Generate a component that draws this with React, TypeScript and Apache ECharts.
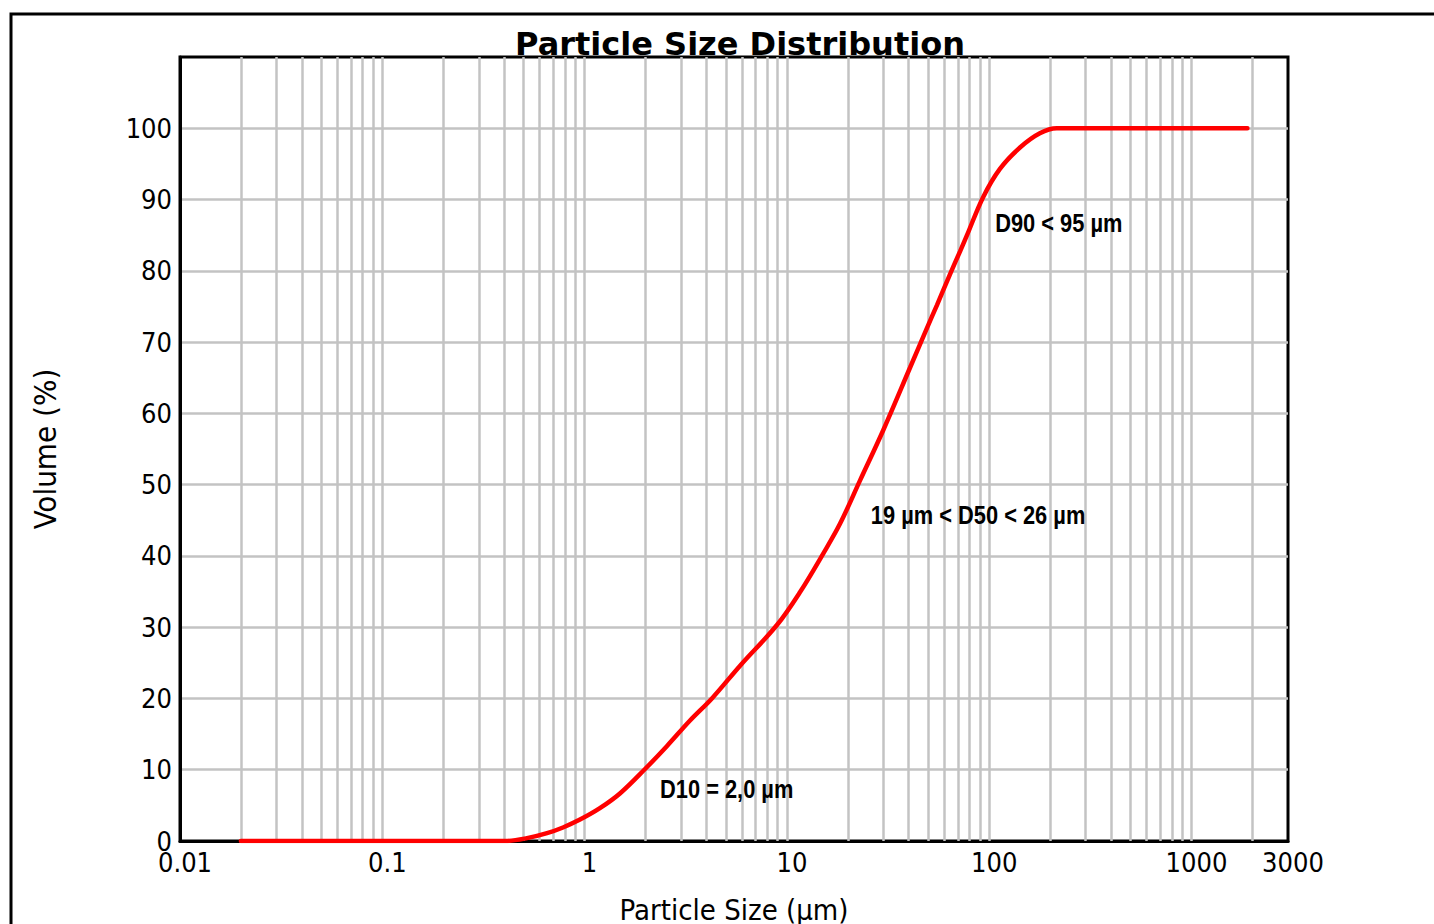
import React, { useEffect, useRef } from "react";
import * as echarts from "echarts";

// Cumulative particle size distribution
const particleSizeUm = [
  0.02, 0.404, 0.519, 0.652, 0.782, 0.949, 1.19, 1.5, 1.99, 2.55, 3.32, 4.26,
  5.87, 8.93, 11.6, 15.1, 18.3, 23.0, 29.9, 40.6, 49.3, 55.2, 64.0, 71.7, 77.7,
  93.2, 113, 142, 178, 216, 1890,
];
const volumePct = [
  0, 0, 0.4, 1.1, 1.9, 3.0, 4.6, 6.7, 10.1, 13.3, 16.9, 20.0,
  24.6, 30.3, 34.9, 40.3, 44.5, 50.6, 57.6, 66.4, 72, 75.2, 79.5, 82.7, 85,
  90.3, 94.3, 97.3, 99.3, 100, 100,
];

// Vertical grid lines of the log axis
const gridSizes = [
  0.02, 0.03, 0.04, 0.05, 0.06, 0.07, 0.08, 0.09,
  0.1, 0.2, 0.3, 0.4, 0.5, 0.6, 0.7, 0.8, 0.9,
  1, 2, 3, 4, 5, 6, 7, 8, 9,
  10, 20, 30, 40, 50, 60, 70, 80, 90,
  100, 200, 300, 400, 500, 600, 700, 800, 900,
  1000, 2000,
];

// Annotations (left edge / vertical centre in data units)
const annotationTexts = ["D10 = 2,0 µm", "19 µm < D50 < 26 µm", "D90 < 95 µm"];
const annotationSize = [2.36, 26.0, 107];
const annotationVolume = [7.3, 45.8, 86.8];

const TITLE = "Particle Size Distribution";
const X_NAME = "Particle Size (µm)";
const Y_NAME = "Volume (%)";

const AXIS_FONT = "'DejaVu Sans Condensed', 'DejaVu Sans', sans-serif";
const NOTE_FONT = "'Liberation Sans', Arial, sans-serif";

export default function App() {
  const ref = useRef<HTMLDivElement>(null);

  useEffect(() => {
    if (!ref.current) return;
    const chart = echarts.init(ref.current, undefined, { renderer: "svg" });

    const fmt = (v: number) => String(parseFloat(Number(v).toPrecision(6)));
    const frame = {
      type: "rect",
      shape: { x: 11, y: 14, width: 1600, height: 1200 },
      style: { fill: "none", stroke: "#000", lineWidth: 3 },
      silent: true,
    };

    chart.setOption({
      animation: false,
      backgroundColor: "#ffffff",
      title: {
        text: TITLE,
        left: 740,
        top: 28,
        padding: 0,
        textAlign: "center",
        textStyle: {
          fontFamily: "'DejaVu Sans', sans-serif",
          fontWeight: "bold",
          fontSize: 32,
          color: "#000",
        },
        z: 10,
      },
      graphic: [frame],
      grid: {
        left: 180,
        right: 146,
        top: 57,
        bottom: 83,
        show: true,
        borderColor: "#000",
        borderWidth: 3,
        backgroundColor: "transparent",
        containLabel: false,
        outerBoundsMode: "none",
      },
      xAxis: {
        type: "log",
        logBase: 10,
        min: 0.01,
        max: 3000,
        name: X_NAME,
        nameLocation: "middle",
        nameGap: 54,
        nameTextStyle: { fontFamily: AXIS_FONT, fontSize: 29, color: "#000" },
        axisLine: { show: true, lineStyle: { color: "#000", width: 3 } },
        axisTick: { show: false },
        splitLine: { show: false },
        minorTick: { show: false },
        minorSplitLine: { show: false },
        axisLabel: {
          fontFamily: AXIS_FONT,
          fontSize: 27,
          color: "#000",
          margin: 8,
          padding: [0, 0, 0, 10],
          formatter: fmt,
        },
      },
      yAxis: {
        type: "value",
        min: 0,
        max: 110,
        interval: 10,
        name: Y_NAME,
        nameLocation: "middle",
        nameGap: 120,
        nameRotate: 90,
        nameTextStyle: { fontFamily: AXIS_FONT, fontSize: 31, color: "#000" },
        axisLine: { show: true, lineStyle: { color: "#000", width: 3 } },
        axisTick: { show: false },
        splitLine: {
          show: true,
          showMinLine: false,
          showMaxLine: false,
          lineStyle: { color: "#c3c3c3", width: 2.5 },
        },
        axisLabel: {
          fontFamily: AXIS_FONT,
          fontSize: 27,
          color: "#000",
          margin: 8,
          formatter: (v: number) => (v > 100 ? "" : String(v)),
        },
      },
      series: [
        {
          type: "line",
          z: 3,
          data: particleSizeUm.map((s, i) => [s, volumePct[i]]),
          showSymbol: false,
          symbol: "none",
          smooth: 0.35,
          lineStyle: { color: "#ff0000", width: 4.5, cap: "round" },
          markLine: {
            z: 1,
            silent: true,
            symbol: ["none", "none"],
            label: { show: false },
            lineStyle: { color: "#c3c3c3", width: 2.5, type: "solid" },
            data: gridSizes.map((v) => ({ xAxis: v })),
          },
        },
      ],
    });

    // Annotation texts positioned through the chart's own scales
    const notes = annotationTexts.map((t, i) => {
      const p = chart.convertToPixel({ gridIndex: 0 }, [
        annotationSize[i],
        annotationVolume[i],
      ]) as number[];
      return {
        type: "text",
        x: p[0],
        y: p[1],
        scaleX: 0.84,
        z: 20,
        silent: true,
        style: {
          text: t,
          x: 0,
          y: 0,
          fill: "#000",
          font: `bold 26px ${NOTE_FONT}`,
          textAlign: "left",
          textVerticalAlign: "middle",
        },
      };
    });
    chart.setOption({ graphic: [frame, ...notes] });

    return () => chart.dispose();
  }, []);

  return (
    <div
      ref={ref}
      style={{ position: "absolute", left: 0, top: 0, width: 1434, height: 924 }}
    />
  );
}
